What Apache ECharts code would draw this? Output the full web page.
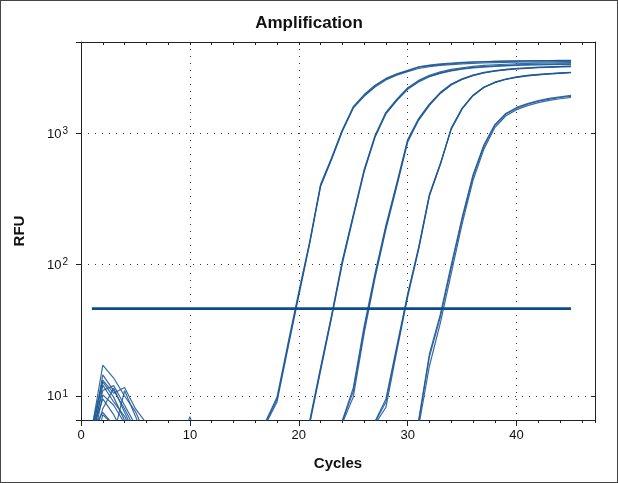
<!DOCTYPE html>
<html><head><meta charset="utf-8">
<script src="https://cdn.jsdelivr.net/npm/echarts@6/dist/echarts.min.js"></script>
<style>
html,body{margin:0;padding:0;background:#fff}
#wrap{position:relative;width:618px;height:483px}
#chart{position:absolute;left:0;top:0;width:618px;height:483px}
#frame{position:absolute;left:0;top:0;width:618px;height:483px;box-sizing:border-box;border:1px solid #444;pointer-events:none}
</style></head><body>
<div id="wrap"><div id="chart"></div><div id="frame"></div></div>
<script>
const cycles = [1,2,3,4,5,6,7,8,9,10,11,12,13,14,15,16,17,18,19,20,21,22,23,24,25,26,27,28,29,30,31,32,33,34,35,36,37,38,39,40,41,42,43,44,45];

// Group 1 (Cq ~19.7)
const rfu_g1a = [5.6,17.2,13.7,10.0,7.6,5.0,3.5,3.0, 2.8,3.0,3.2,2.9,3.1,3.3,3.6,4.2,
  6.4,9.4,24,60,147,400,640,1050,1580,1950,2300,2600,2820,3000,3200,3290,3350,3400,3450,3490,3520,3540,3555,3565,3575,3585,3590,3595,3600];
const rfu_g1b = [4.8,14.5,11.0,8.0,5.5,4.0,3.2,3.0, 4.0,6.95,4.0,3.0,3.1,3.2,3.5,4.0,
  6.2,9.0,23,58,145,395,630,1040,1560,1920,2260,2560,2780,2960,3130,3230,3300,3350,3390,3420,3445,3465,3480,3495,3505,3515,3520,3525,3530];
const rfu_g1c = [5.2,9.5,7.2,5.0,3.8,3.2,3.0,2.9, 2.9,3.0,2.9,3.0,3.1,3.2,3.5,4.1,
  6.5,9.8,25,62,150,410,650,1070,1600,1980,2330,2630,2850,3030,3220,3320,3390,3440,3480,3510,3530,3545,3560,3570,3580,3590,3598,3605,3610];

// Group 2 (Cq ~23.1)
const rfu_g2a = [5.9,13.2,10.5,11.6,8.0,6.2,4.0,3.2, 3.0,2.9,3.0,3.1,2.9,3.0,3.1,3.0,3.2,3.3,3.6,4.2,
  6.3,16,40,105,235,520,950,1430,1800,2200,2500,2740,2900,3030,3120,3190,3240,3280,3310,3335,3355,3370,3380,3390,3400];
const rfu_g2b = [4.5,12.1,9.0,7.0,4.8,3.5,3.0,2.9, 2.9,3.0,3.0,2.9,3.0,3.1,3.0,3.1,3.2,3.4,3.7,4.3,
  6.1,15.5,39,102,230,510,935,1410,1780,2170,2470,2710,2870,3000,3090,3160,3210,3250,3280,3300,3320,3335,3345,3355,3365];
const rfu_g2c = [5.0,11.0,12.0,8.5,6.0,4.2,3.3,3.0, 3.0,2.9,3.1,3.0,2.9,3.0,3.1,3.2,3.1,3.3,3.6,4.1,
  6.5,16.5,41,108,240,530,965,1450,1830,2230,2540,2780,2950,3080,3170,3250,3300,3340,3370,3400,3420,3435,3445,3455,3465];

// Group 3 (Cq ~26.3)
const rfu_g3a = [4.2,8.0,11.5,7.5,5.0,3.8,3.1,3.0, 2.9,3.0,3.0,2.9,3.0,3.1,3.0,2.9,3.0,3.1,3.0,3.2,3.4,3.7,4.3,
  6.5,11.5,34,86,200,420,900,1300,1680,2060,2380,2610,2790,2920,3010,3080,3130,3170,3200,3225,3245,3260];
const rfu_g3b = [3.5,6.0,5.0,11.0,7.0,4.5,3.4,3.0, 2.9,2.9,3.0,3.0,2.9,3.0,3.1,3.0,2.9,3.0,3.1,3.2,3.3,3.6,4.1,
  6.2,9.8,30,79,186,395,860,1260,1640,2020,2340,2580,2760,2890,2980,3050,3100,3140,3170,3195,3215,3230];
const rfu_g3c = [5.4,12.8,9.8,6.5,4.5,3.4,3.0,2.9, 3.0,2.9,3.0,3.1,3.0,2.9,3.0,3.1,3.0,3.1,3.2,3.3,3.5,3.8,4.3,
  6.4,10.8,32,83,193,408,880,1280,1660,2040,2360,2595,2775,2905,2995,3065,3115,3155,3185,3210,3230,3245];

// Group 4 (Cq ~29.9)
const rfu_g4a = [4.0,10.2,8.5,6.2,4.2,3.3,3.0,2.9, 3.0,2.9,3.0,3.1,3.0,2.9,3.0,3.1,3.0,2.9,3.0,3.1,3.0,3.2,3.3,3.5,3.8,4.3,
  6.4,9.5,24,60,135,345,590,1100,1560,1960,2260,2460,2600,2700,2770,2820,2860,2895,2930];
const rfu_g4b = [3.0,7.2,6.0,4.0,3.2,3.0,2.9,2.8, 2.9,3.0,2.9,3.0,3.1,3.0,2.9,3.0,3.0,3.1,3.0,3.0,3.1,3.2,3.3,3.4,3.7,4.2,
  6.1,8.2,22,57,130,335,580,1080,1540,1940,2240,2440,2580,2680,2750,2800,2840,2875,2905];
const rfu_g4c = [3.1,3.0,2.9,3.0,3.1,3.0,2.9,3.0, 3.0,3.0,3.1,2.9,3.0,3.0,3.1,3.0,2.9,3.0,3.1,3.0,3.1,3.2,3.4,3.5,3.8,4.4,
  6.3,9.0,23,59,133,340,585,1090,1550,1950,2250,2450,2590,2690,2760,2810,2850,2885,2915];

// Group 5 (Cq ~33.2)
const rfu_g5a = [5.5,7.5,6.0,4.5,3.5,3.1,3.0,2.9, 3.0,2.9,3.0,3.1,3.0,2.9,3.0,3.1,3.0,2.9,3.0,3.1,3.0,2.9,3.0,3.1,3.0,3.2,3.3,3.5,3.8,4.3,
  6.3,20,40,95,222,470,800,1150,1400,1560,1670,1760,1830,1880,1920];
const rfu_g5b = [3.2,3.0,3.1,3.0,2.9,3.0,3.1,3.0, 2.9,3.0,3.1,3.0,2.9,3.0,3.0,3.1,2.9,3.0,3.1,3.0,2.9,3.0,3.1,3.0,3.1,3.2,3.3,3.4,3.7,4.1,
  5.8,17,36,86,205,440,760,1110,1360,1520,1630,1720,1790,1840,1880];
const rfu_g5c = [3.0,3.1,3.0,2.9,3.0,3.1,3.0,2.9, 3.0,3.1,3.0,2.9,3.0,3.0,3.1,3.0,2.9,3.0,3.0,3.1,3.0,2.9,3.0,3.0,3.1,3.2,3.4,3.5,3.8,4.4,
  6.5,21,42,100,230,485,820,1170,1420,1580,1690,1780,1850,1900,1950];

const threshold = 46.3;
const thresholdCycles = [1, 45];
const xTickLabels = [0, 10, 20, 30, 40];
const yTickExponents = {10: '1', 100: '2', 1000: '3'};

const curves = [rfu_g1a, rfu_g1b, rfu_g1c, rfu_g2a, rfu_g2b, rfu_g2c, rfu_g3a, rfu_g3b, rfu_g3c,
  rfu_g4a, rfu_g4b, rfu_g4c, rfu_g5a, rfu_g5b, rfu_g5c];

const FONT = "'Liberation Sans', Arial, sans-serif";
const X_MIN = 0, X_MAX = 47.2, Y_MIN = 6.56, Y_MAX = 4980;
const dotted = {type: [1, 6], width: 1, color: '#333'};
const axisCol = '#222';

const series = curves.map(arr => ({
  type: 'line',
  data: cycles.map((c, i) => [c, arr[i]]),
  symbol: 'none', showSymbol: false, silent: true, clip: true,
  lineStyle: {color: '#1d5796', width: 1.2, opacity: 0.88},
  z: 3
}));
series.push({
  type: 'line',
  data: thresholdCycles.map(c => [c, threshold]),
  symbol: 'none', silent: true,
  lineStyle: {color: '#0b4c8c', width: 2.6},
  z: 4
});

const chart = echarts.init(document.getElementById('chart'), null, {renderer: 'canvas'});
chart.setOption({
  animation: false,
  backgroundColor: '#fff',
  textStyle: {fontFamily: FONT},
  title: {
    text: 'Amplification', left: 'center', top: 10,
    textStyle: {fontFamily: FONT, fontSize: 17, fontWeight: 'bold', color: '#111'}
  },
  grid: {left: 81, right: 23, top: 42, bottom: 63, containLabel: false},
  xAxis: [
    {
      type: 'value', position: 'bottom', min: X_MIN, max: X_MAX, interval: 10,
      axisLine: {show: true, onZero: false, lineStyle: {color: axisCol, width: 1}},
      axisTick: {show: true, length: 6, lineStyle: {color: axisCol}},
      axisLabel: {
        margin: 9, fontSize: 13, color: '#111', fontFamily: FONT, showMaxLabel: false,
        formatter: v => (xTickLabels.indexOf(Math.round(v)) >= 0 && Math.abs(v - Math.round(v)) < 1e-6) ? String(Math.round(v)) : ''
      },
      splitLine: {show: true, lineStyle: dotted},
      name: 'Cycles', nameLocation: 'middle', nameGap: 36,
      nameTextStyle: {fontFamily: FONT, fontSize: 15, fontWeight: 'bold', color: '#111'}
    },
    {
      type: 'value', position: 'bottom', min: X_MIN, max: X_MAX, interval: 2,
      axisLine: {show: false, onZero: false},
      axisTick: {show: true, length: 3, lineStyle: {color: axisCol}},
      axisLabel: {show: false}, splitLine: {show: false}
    },
    {
      type: 'value', position: 'top', min: X_MIN, max: X_MAX, interval: 2,
      axisLine: {show: true, onZero: false, lineStyle: {color: axisCol, width: 1}},
      axisTick: {show: true, inside: true, length: 3, lineStyle: {color: axisCol}},
      axisLabel: {show: false}, splitLine: {show: false}
    }
  ],
  yAxis: [
    {
      type: 'log', logBase: 10, position: 'left', min: Y_MIN, max: Y_MAX,
      axisLine: {show: true, onZero: false, lineStyle: {color: axisCol, width: 1}},
      axisTick: {show: true, length: 5, lineStyle: {color: axisCol}},
      axisLabel: {
        margin: 13, fontFamily: FONT, color: '#111',
        formatter: v => {
          const e = yTickExponents[Math.round(v)];
          return e ? '{b|10}{s|' + e + '}' : '';
        },
        rich: {
          b: {fontSize: 13, fontFamily: FONT, color: '#111', verticalAlign: 'bottom', lineHeight: 14},
          s: {fontSize: 10, fontFamily: FONT, color: '#111', verticalAlign: 'top', lineHeight: 10, padding: [0, 0, 6, 1]}
        }
      },
      splitLine: {show: true, lineStyle: dotted},
      name: 'RFU', nameLocation: 'middle', nameRotate: 90, nameGap: 54,
      nameTextStyle: {fontFamily: FONT, fontSize: 15, fontWeight: 'bold', color: '#111'}
    },
    {
      type: 'log', logBase: 10, position: 'right', min: Y_MIN, max: Y_MAX,
      axisLine: {show: true, onZero: false, lineStyle: {color: axisCol, width: 1}},
      axisTick: {show: true, inside: true, length: 4, lineStyle: {color: axisCol}},
      axisLabel: {show: false}, splitLine: {show: false}
    }
  ],
  series: series
});
</script>
</body></html>
